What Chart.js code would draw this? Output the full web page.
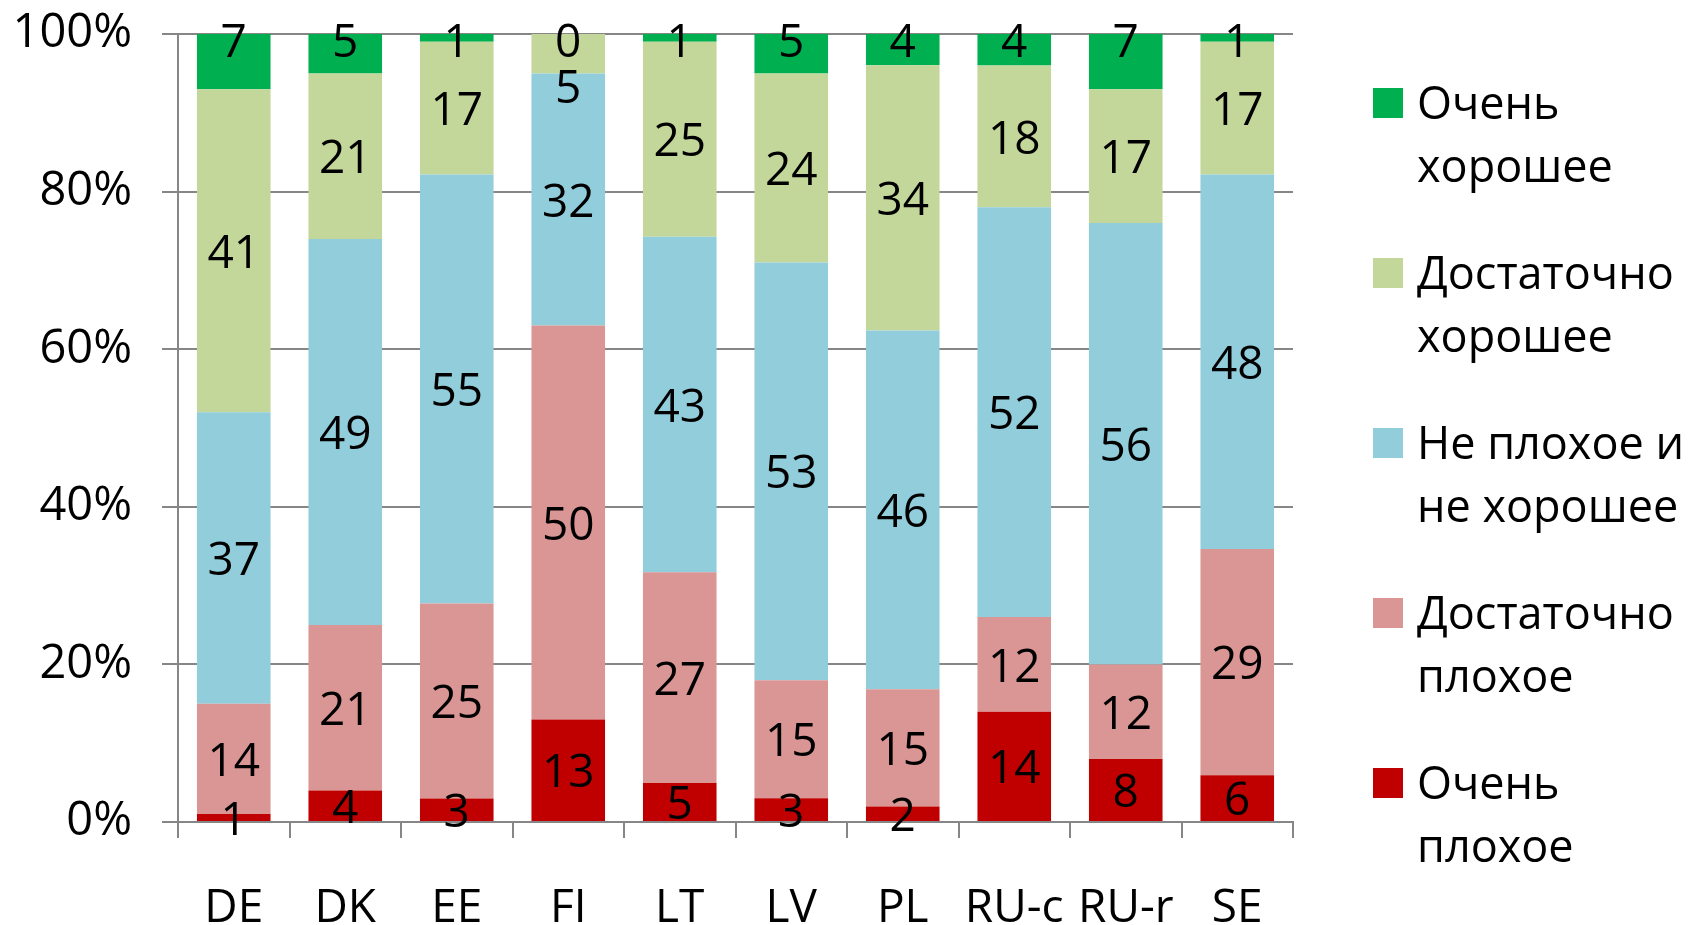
<!DOCTYPE html>
<html>
<head>
<meta charset="utf-8">
<script src="https://cdn.jsdelivr.net/npm/chart.js@4.4.1/dist/chart.umd.min.js"></script>
<style>
  html, body { margin: 0; padding: 0; background: #fff; }
  #wrap { width: 1692px; height: 925px; }
</style>
</head>
<body>
<div id="wrap"><canvas id="surveyChart" width="1692" height="925"></canvas></div>
<script>
const countries = ['DE', 'DK', 'EE', 'FI', 'LT', 'LV', 'PL', 'RU-c', 'RU-r', 'SE'];
const veryBad    = [1, 4, 3, 13, 5, 3, 2, 14, 8, 6];
const ratherBad  = [14, 21, 25, 50, 27, 15, 15, 12, 12, 29];
const neither    = [37, 49, 55, 32, 43, 53, 46, 52, 56, 48];
const ratherGood = [41, 21, 17, 5, 25, 24, 34, 18, 17, 17];
const veryGood   = [7, 5, 1, 0, 1, 5, 4, 4, 7, 1];
const seriesNames = [['Очень', 'плохое'], ['Достаточно', 'плохое'], ['Не плохое и', 'не хорошее'], ['Достаточно', 'хорошее'], ['Очень', 'хорошее']];
const seriesColors = ['#C00000', '#DA9694', '#92CDDC', '#C4D79B', '#00B050'];
const yTickStep = 20;

const allSeries = [veryBad, ratherBad, neither, ratherGood, veryGood];

// bars are 100% stacked: share of each answer in the country's total
const totals = countries.map((c, i) => allSeries.reduce((s, arr) => s + arr[i], 0));

const datasets = allSeries.map((arr, k) => ({
    label: seriesNames[k].join(' '),
    raw: arr,
    data: arr.map((v, i) => v / totals[i] * 100),
    backgroundColor: seriesColors[k],
    borderWidth: 0,
    categoryPercentage: 1,
    barPercentage: 0.66
}));

const valueLabels = {
    id: 'valueLabels',
    afterDatasetsDraw(chart) {
        const ctx = chart.ctx;
        const area = chart.chartArea;
        const last = chart.data.datasets.length - 1;
        ctx.save();
        ctx.font = '46px "Open Sans"';
        ctx.fillStyle = '#000';
        ctx.textAlign = 'center';
        ctx.textBaseline = 'middle';
        countries.forEach((c, i) => {
            let prevY = null;
            for (let d = last; d >= 0; d--) {
                const bar = chart.getDatasetMeta(d).data[i];
                let y = d === last ? area.top + 10 : (bar.y + bar.base) / 2 + 4;
                if (prevY !== null && y < prevY + 46) y = prevY + 46;
                ctx.fillText(String(chart.data.datasets[d].raw[i]), bar.x, y);
                prevY = y;
            }
        });
        ctx.restore();
    }
};

const sideLegend = {
    id: 'sideLegend',
    afterDraw(chart) {
        const ctx = chart.ctx;
        ctx.save();
        ctx.font = '45px "Open Sans"';
        ctx.textAlign = 'left';
        ctx.textBaseline = 'alphabetic';
        for (let n = 0; n < seriesNames.length; n++) {
            const k = seriesNames.length - 1 - n;
            const top = 88 + n * 170;
            ctx.fillStyle = seriesColors[k];
            ctx.fillRect(1373, top, 30, 30);
            ctx.fillStyle = '#000';
            ctx.fillText(seriesNames[k][0], 1417, top + 31);
            ctx.fillText(seriesNames[k][1], 1417, top + 94);
        }
        ctx.restore();
    }
};

Chart.defaults.font.family = '"Open Sans", sans-serif';
Chart.defaults.color = '#000';

new Chart(document.getElementById('surveyChart').getContext('2d'), {
    type: 'bar',
    data: { labels: countries, datasets: datasets },
    options: {
        responsive: false,
        animation: false,
        layout: { padding: { top: 34, right: 399, bottom: 0, left: 0 } },
        plugins: {
            legend: { display: false },
            tooltip: { enabled: false }
        },
        scales: {
            x: {
                stacked: true,
                grid: { drawOnChartArea: false, drawTicks: true, tickLength: 16, color: '#868686', lineWidth: 2 },
                border: { color: '#868686', width: 2 },
                ticks: { font: { size: 46 }, padding: 43 },
                afterFit(scale) { scale.height = 103; }
            },
            y: {
                stacked: true,
                min: 0,
                max: 100,
                grid: { color: '#868686', lineWidth: 2, tickLength: 16 },
                border: { color: '#868686', width: 2 },
                ticks: {
                    stepSize: yTickStep,
                    font: { size: 47 },
                    padding: 30,
                    callback: v => v + '%'
                },
                afterFit(scale) {
                    scale.width = 178;
                    scale.paddingTop = 0;
                    scale.paddingBottom = 0;
                }
            }
        }
    },
    plugins: [valueLabels, sideLegend]
});
</script>
</body>
</html>
